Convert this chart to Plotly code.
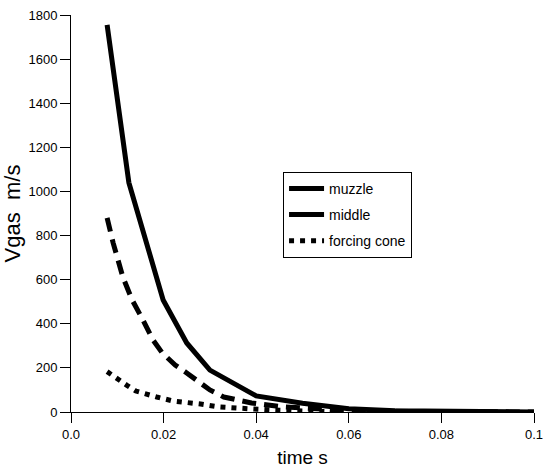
import plotly.graph_objects as go

muzzle_t = [0.0078, 0.0125, 0.0199, 0.025, 0.030, 0.040, 0.050, 0.060, 0.070, 0.080, 0.100]
muzzle_v = [1755, 1040, 508, 313, 190, 73, 40, 15, 6, 3, 0]

middle_t = [0.0078, 0.0091, 0.0112, 0.0132, 0.0153, 0.0177, 0.0197, 0.0225, 0.025, 0.028, 0.030, 0.033, 0.039, 0.046, 0.058, 0.070, 0.100]
middle_v = [880, 767, 612, 508, 427, 327, 268, 213, 177, 132, 100, 68, 41, 23, 9, 3, 0]

cone_t = [0.0078, 0.0097, 0.012, 0.014, 0.0155, 0.0165, 0.0185, 0.022, 0.025, 0.028, 0.032, 0.035, 0.039, 0.045, 0.050, 0.055]
cone_v = [183, 153, 122, 95, 85, 77, 68, 50, 45, 36, 23, 18, 14, 8, 5, 2]

x_ticks = [0, 0.02, 0.04, 0.06, 0.08, 0.1]
x_labels = ["0.0", "0.02", "0.04", "0.06", "0.08", "0.1"]
y_ticks = [0, 200, 400, 600, 800, 1000, 1200, 1400, 1600, 1800]

FONT = "Liberation Sans, Arial, sans-serif"

fig = go.Figure()
fig.add_trace(go.Scatter(x=muzzle_t, y=muzzle_v, mode="lines", name="muzzle",
                         legendgroup="a",
                         line=dict(color="black", width=5)))
fig.add_trace(go.Scatter(x=middle_t, y=middle_v, mode="lines", name="middle",
                         showlegend=False, legendgroup="b",
                         line=dict(color="black", width=5, dash="14px,8px")))
fig.add_trace(go.Scatter(x=[None], y=[None], mode="lines", name="middle",
                         legendgroup="b",
                         line=dict(color="black", width=5)))
fig.add_trace(go.Scatter(x=cone_t, y=cone_v, mode="lines", name="forcing cone",
                         legendgroup="c",
                         line=dict(color="black", width=5, dash="5px,6px")))

axis_common = dict(showline=True, linecolor="black", linewidth=1, showgrid=False,
                   zeroline=False, ticks="outside", ticklen=10, tickwidth=1,
                   automargin=False,
                   tickcolor="black", tickfont=dict(family=FONT, size=13, color="black"))

fig.update_layout(
    width=554, height=470,
    margin=dict(l=71, r=20, t=15, b=58),
    paper_bgcolor="white", plot_bgcolor="white",
    font=dict(family=FONT, color="black"),
    xaxis=dict(range=[0, 0.1], tickvals=x_ticks, ticktext=x_labels,
               title=dict(text="time s", font=dict(family=FONT, size=19), standoff=10),
               **axis_common),
    yaxis=dict(range=[0, 1800], tickvals=y_ticks,
               title=dict(text="Vgas  m/s", font=dict(family=FONT, size=22), standoff=5),
               **axis_common),
    legend=dict(x=0.458, y=0.605, xanchor="left", yanchor="top",
                bgcolor="white", bordercolor="black", borderwidth=1,
                font=dict(family=FONT, size=14, color="black"),
                tracegroupgap=5, itemwidth=35),
    showlegend=True,
)

fig.write_html("out.html")
